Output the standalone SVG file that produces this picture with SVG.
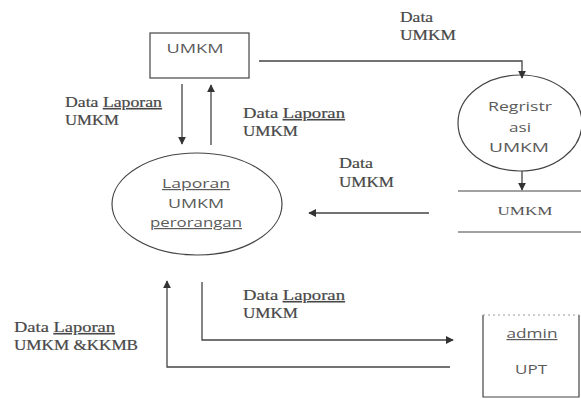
<svg xmlns="http://www.w3.org/2000/svg" width="581" height="399" viewBox="0 0 581 399">
  <defs>
    <marker id="arrow" viewBox="0 0 10 10" refX="9" refY="5" markerWidth="8" markerHeight="8" markerUnits="userSpaceOnUse" orient="auto">
      <path d="M0,0 L10,5 L0,10 z" fill="#333"/>
    </marker>
    <style>
      .shape { fill: none; stroke: #444; stroke-width: 1.2; }
      .flow { fill: none; stroke: #444; stroke-width: 1.3; marker-end: url(#arrow); }
      .label { font-family: "Liberation Serif", "Times New Roman", serif; font-size: 14px; fill: #484848; stroke: #484848; stroke-width: 0.2; }
      .node { font-family: "Open Sans", "Liberation Sans", Arial, sans-serif; font-size: 12px; fill: #5a5a5a; text-anchor: middle; }
      .store { font-family: "Liberation Serif", "Times New Roman", serif; font-size: 12px; fill: #555; text-anchor: middle; }
      .ul { text-decoration: underline; }
    </style>
  </defs>

  <rect width="581" height="399" fill="#ffffff"/>

  <!-- external entity: UMKM -->
  <g id="umkm-entity">
    <rect class="shape" x="150" y="33" width="99" height="45"/>
    <text class="node" x="195" y="53" textLength="57" lengthAdjust="spacingAndGlyphs">UMKM</text>
  </g>

  <!-- process: Registrasi UMKM -->
  <g id="registrasi">
    <ellipse class="shape" cx="520" cy="123" rx="62" ry="48"/>
    <text class="node" x="520" y="111" textLength="64" lengthAdjust="spacingAndGlyphs">Regristr</text>
    <text class="node" x="520" y="132" textLength="22" lengthAdjust="spacingAndGlyphs">asi</text>
    <text class="node" x="519" y="152" textLength="60" lengthAdjust="spacingAndGlyphs">UMKM</text>
  </g>

  <!-- data store: UMKM -->
  <g id="store-umkm">
    <line class="shape" x1="458" y1="191" x2="581" y2="191"/>
    <line class="shape" x1="458" y1="232" x2="581" y2="232"/>
    <text class="store" x="525" y="215" textLength="55" lengthAdjust="spacingAndGlyphs">UMKM</text>
  </g>

  <!-- process: Laporan UMKM perorangan -->
  <g id="laporan">
    <ellipse class="shape" cx="197" cy="204" rx="85" ry="51"/>
    <text class="node ul" x="196" y="188" textLength="68" lengthAdjust="spacingAndGlyphs">Laporan</text>
    <text class="node" x="196" y="208" textLength="56" lengthAdjust="spacingAndGlyphs">UMKM</text>
    <text class="node ul" x="196" y="227" textLength="92" lengthAdjust="spacingAndGlyphs">perorangan</text>
  </g>

  <!-- external entity: admin UPT -->
  <g id="admin-upt">
    <path class="shape" d="M483,315 L483,397 L579,397 L579,315"/>
    <line x1="483" y1="315" x2="579" y2="315" stroke="#999" stroke-width="1" stroke-dasharray="2,3"/>
    <text class="node ul" x="532" y="338" textLength="51" lengthAdjust="spacingAndGlyphs">admin</text>
    <text class="node" x="531" y="374" textLength="32" lengthAdjust="spacingAndGlyphs">UPT</text>
  </g>

  <!-- data flows -->
  <g id="connectors">
    <path class="flow" d="M259,61 L522,61 L522,78"/>
    <line class="flow" x1="182" y1="84" x2="182" y2="144"/>
    <line class="flow" x1="211" y1="145" x2="211" y2="85"/>
    <line class="flow" x1="522" y1="171" x2="522" y2="190"/>
    <line class="flow" x1="429" y1="213" x2="309" y2="213"/>
    <path class="flow" d="M202,282 L202,340 L453,340"/>
    <path class="flow" d="M450,367 L167,367 L167,281"/>
  </g>

  <!-- flow labels -->
  <g id="labels">
    <text class="label" x="400" y="22" textLength="33" lengthAdjust="spacingAndGlyphs">Data</text>
    <text class="label" x="400" y="40" textLength="56" lengthAdjust="spacingAndGlyphs">UMKM</text>

    <text class="label" x="65" y="107" textLength="97" lengthAdjust="spacingAndGlyphs">Data <tspan class="ul">Laporan</tspan></text>
    <text class="label" x="65" y="125" textLength="54" lengthAdjust="spacingAndGlyphs">UMKM</text>

    <text class="label" x="243" y="118" textLength="102" lengthAdjust="spacingAndGlyphs">Data <tspan class="ul">Laporan</tspan></text>
    <text class="label" x="243" y="136" textLength="55" lengthAdjust="spacingAndGlyphs">UMKM</text>

    <text class="label" x="339" y="168" textLength="34" lengthAdjust="spacingAndGlyphs">Data</text>
    <text class="label" x="339" y="187" textLength="55" lengthAdjust="spacingAndGlyphs">UMKM</text>

    <text class="label" x="243" y="300" textLength="102" lengthAdjust="spacingAndGlyphs">Data <tspan class="ul">Laporan</tspan></text>
    <text class="label" x="243" y="318" textLength="55" lengthAdjust="spacingAndGlyphs">UMKM</text>

    <text class="label" x="14" y="332" textLength="101" lengthAdjust="spacingAndGlyphs">Data <tspan class="ul">Laporan</tspan></text>
    <text class="label" x="14" y="350" textLength="124" lengthAdjust="spacingAndGlyphs">UMKM &amp;KKMB</text>
  </g>
</svg>
